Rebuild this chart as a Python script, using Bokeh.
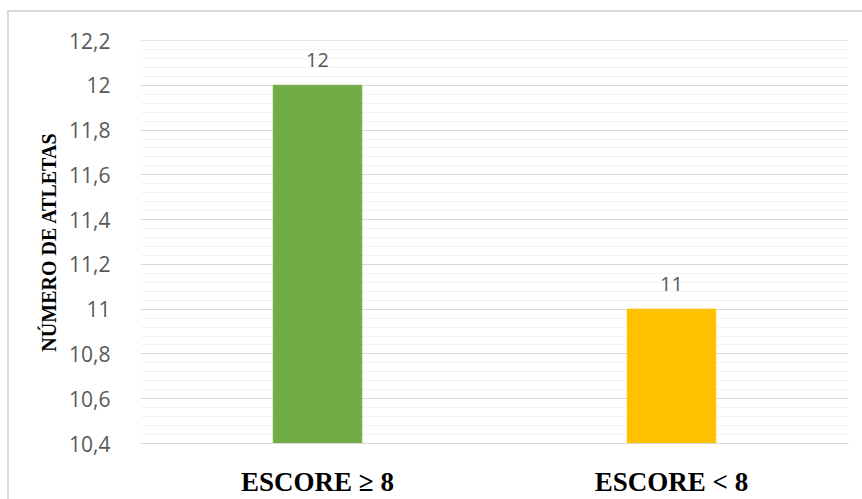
from bokeh.plotting import figure
from bokeh.models import (ColumnDataSource, SingleIntervalTicker, CustomJSTickFormatter,
                          FactorRange, Range1d, InlineStyleSheet)
from bokeh.core.properties import value
from bokeh.embed import file_html
from bokeh.resources import INLINE

categories = ["ESCORE ≥ 8", "ESCORE < 8"]
counts = [12, 11]
colors = ["#70AD47", "#FFC000"]
labels = ["12", "11"]
y_min, y_max, y_step = 10.4, 12.2, 0.2
y_title = "NÚMERO DE ATLETAS"

src = ColumnDataSource(dict(cat=categories, val=counts, color=colors, lab=labels,
                            base=[y_min] * len(counts)))

css = InlineStyleSheet(css="""
:host {
  background-color: white;
  background-image: linear-gradient(#D9D9D9, #D9D9D9), linear-gradient(#D9D9D9, #D9D9D9);
  background-size: 100% 2px, 2px 100%;
  background-position: 8px 10px, 7px 10px;
  background-repeat: no-repeat;
}
""")

p = figure(width=862, height=499, x_range=FactorRange(*categories),
           y_range=Range1d(y_min, y_max + 1e-6), output_backend="svg", toolbar_location=None,
           min_border_left=140, min_border_right=14, min_border_top=40, min_border_bottom=54,
           stylesheets=[css])
p.outline_line_color = None
p.background_fill_color = "white"
p.border_fill_color = None

p.vbar(x="cat", top="val", bottom="base", width=0.25, color="color", source=src)
p.text(x="cat", y="val", text="lab", source=src, text_align="center", text_baseline="middle",
       y_offset=-25, text_font=value("Open Sans"), text_font_size="20px", text_color="#595959")

# grids
p.yaxis.ticker = SingleIntervalTicker(interval=y_step, num_minor_ticks=5)
p.ygrid.grid_line_color = "#D9D9D9"
p.ygrid.grid_line_width = 1
p.ygrid.minor_grid_line_color = "#F2F2F2"
p.ygrid.minor_grid_line_width = 1
p.xgrid.grid_line_color = None

p.yaxis.formatter = CustomJSTickFormatter(code="""
const s = (Math.round(tick*10)/10).toString();
return s.replace('.', ',');
""")
p.yaxis.axis_line_color = None
p.yaxis.major_tick_line_color = None
p.yaxis.minor_tick_line_color = None
p.yaxis.major_label_standoff = 24
p.yaxis.major_label_text_font = "Open Sans"
p.yaxis.major_label_text_font_size = "21px"
p.yaxis.major_label_text_color = "#595959"
p.yaxis.axis_label = y_title
p.yaxis.axis_label_text_font = "Liberation Serif"
p.yaxis.axis_label_text_font_style = "bold"
p.yaxis.axis_label_text_font_size = "20px"
p.yaxis.axis_label_text_color = "black"
p.yaxis.axis_label_standoff = 6

p.xaxis.axis_line_color = "#D9D9D9"
p.xaxis.major_tick_line_color = None
p.xaxis.minor_tick_line_color = None
p.xaxis.major_label_standoff = 17
p.xaxis.major_label_text_font = "Liberation Serif"
p.xaxis.major_label_text_font_style = "bold"
p.xaxis.major_label_text_font_size = "27px"
p.xaxis.major_label_text_color = "black"

open("out.html", "w").write(file_html(p, INLINE))
